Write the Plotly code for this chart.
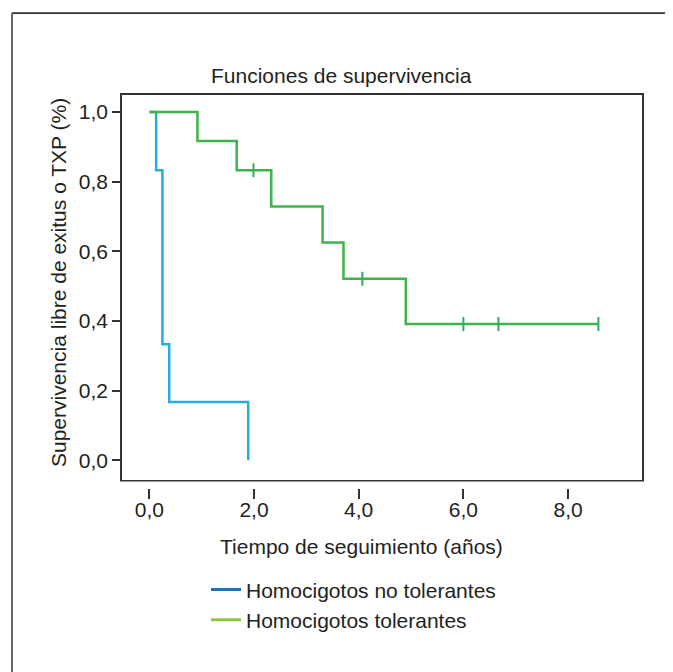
import plotly.graph_objects as go

# ---- data ----
blue_name = "Homocigotos no tolerantes"
green_name = "Homocigotos tolerantes"

blue_time = [0, 0.13, 0.25, 0.38, 1.89]
blue_surv = [1.0, 0.833, 0.333, 0.167, 0.0]

green_time = [0, 0.92, 1.67, 2.33, 3.31, 3.71, 4.90, 8.58]
green_surv = [1.0, 0.917, 0.833, 0.729, 0.625, 0.521, 0.391, 0.391]

green_cens_time = [1.99, 4.07, 6.00, 6.67, 8.58]
green_cens_surv = [0.833, 0.521, 0.391, 0.391, 0.391]

x_ticks = [0, 2, 4, 6, 8]
y_ticks = [0, 0.2, 0.4, 0.6, 0.8, 1.0]

title_text = "Funciones de supervivencia"
x_title = "Tiempo de seguimiento (años)"
y_title = "Supervivencia libre de exitus o TXP (%)"

# ---- styles ----
FONT = "Liberation Sans, Arial, Helvetica, sans-serif"
FS = 21
TXT = "#231f20"
AX = "#333333"
BLUE = "#29abe2"
GREEN = "#3db54a"
BLUE_LEG = "#1c75bc"
GREEN_LEG = "#8dc63f"
X_RANGE = [-0.522, 9.413]
Y_RANGE = [-0.057, 1.049]

fig = go.Figure()
fig.add_trace(go.Scatter(x=blue_time, y=blue_surv, mode="lines", line=dict(shape="hv", color=BLUE, width=2.5),
                         showlegend=False, hoverinfo="skip"))
fig.add_trace(go.Scatter(x=green_time, y=green_surv, mode="lines", line=dict(shape="hv", color=GREEN, width=2.5),
                         showlegend=False, hoverinfo="skip"))
fig.add_trace(go.Scatter(x=green_cens_time, y=green_cens_surv, mode="markers", xaxis="x2",
                         marker=dict(symbol="line-ns", size=10, line=dict(color="#2fae5c", width=2)),
                         showlegend=False, hoverinfo="skip"))
# legend entries
fig.add_trace(go.Scatter(x=[None], y=[None], mode="lines", line=dict(color=BLUE_LEG, width=3), name=blue_name))
fig.add_trace(go.Scatter(x=[None], y=[None], mode="lines", line=dict(color=GREEN_LEG, width=3), name=green_name))

OFF = 8  # page body margin
W, H = 673 - OFF, 672 - OFF
L, T = 122 - OFF, 94.5 - OFF
R = W - (642 - OFF)
B = H - (480.5 - OFF)
pw, ph = W - L - R, H - T - B

def px(xp):
    return (xp - OFF - L) / pw

def py(yp):
    return (H - B - (yp - OFF)) / ph

shapes = []
# gap between axis line and the detached x tick marks
shapes.append(dict(type="rect", xref="paper", yref="paper", x0=px(110), x1=px(650), y0=py(482), y1=py(489.5),
                   fillcolor="white", line=dict(width=0), layer="above"))
# outer frame (top and left)
shapes.append(dict(type="line", xref="paper", yref="paper", x0=px(12), x1=px(690), y0=py(12.5), y1=py(12.5),
                   line=dict(color=AX, width=1.8)))
shapes.append(dict(type="line", xref="paper", yref="paper", x0=px(12), x1=px(12), y0=py(12.5), y1=py(690),
                   line=dict(color="#555555", width=1.8)))

annotations = [
    dict(text=title_text, xref="paper", yref="paper", x=px(341), y=py(75), showarrow=False,
         xanchor="center", yanchor="middle", font=dict(size=FS, color=TXT, family=FONT)),
    dict(text=x_title, xref="paper", yref="paper", x=px(361), y=py(547), showarrow=False,
         xanchor="center", yanchor="middle", font=dict(size=FS, color=TXT, family=FONT)),
    dict(text=y_title, xref="paper", yref="paper", x=px(58), y=py(283), showarrow=False, textangle=-90,
         xanchor="center", yanchor="middle", font=dict(size=FS, color=TXT, family=FONT)),
]

fig.update_layout(
    width=W, height=H, autosize=False,
    margin=dict(l=L, r=R, t=T, b=B, pad=0),
    paper_bgcolor="white", plot_bgcolor="white",
    separators=",.",
    font=dict(family=FONT, size=FS, color=TXT),
    shapes=shapes, annotations=annotations,
    legend=dict(x=px(206), y=py(570), xanchor="left", yanchor="top", bgcolor="rgba(0,0,0,0)",
                font=dict(size=FS, color=TXT, family=FONT), tracegroupgap=0, itemwidth=30),
    xaxis=dict(range=X_RANGE, tickvals=x_ticks, tickformat=".1f", ticks="outside", ticklen=10,
               tickcolor="rgba(0,0,0,0)", showgrid=False, zeroline=False, showline=True, mirror=True,
               linecolor=AX, linewidth=1.5, tickfont=dict(size=FS, color=TXT, family=FONT)),
    xaxis2=dict(range=X_RANGE, overlaying="x", anchor="y", side="bottom", tickvals=x_ticks,
                ticks="outside", ticklen=18, tickwidth=1.5, tickcolor=AX, showticklabels=False,
                showgrid=False, zeroline=False, showline=False),
    yaxis=dict(range=Y_RANGE, tickvals=y_ticks, tickformat=".1f", ticks="outside", ticklen=8,
               tickcolor=AX, tickwidth=1.5, showgrid=False, zeroline=False, showline=True, mirror=True,
               linecolor=AX, linewidth=1.5, tickfont=dict(size=FS, color=TXT, family=FONT)),
)

fig.write_html("out.html")
